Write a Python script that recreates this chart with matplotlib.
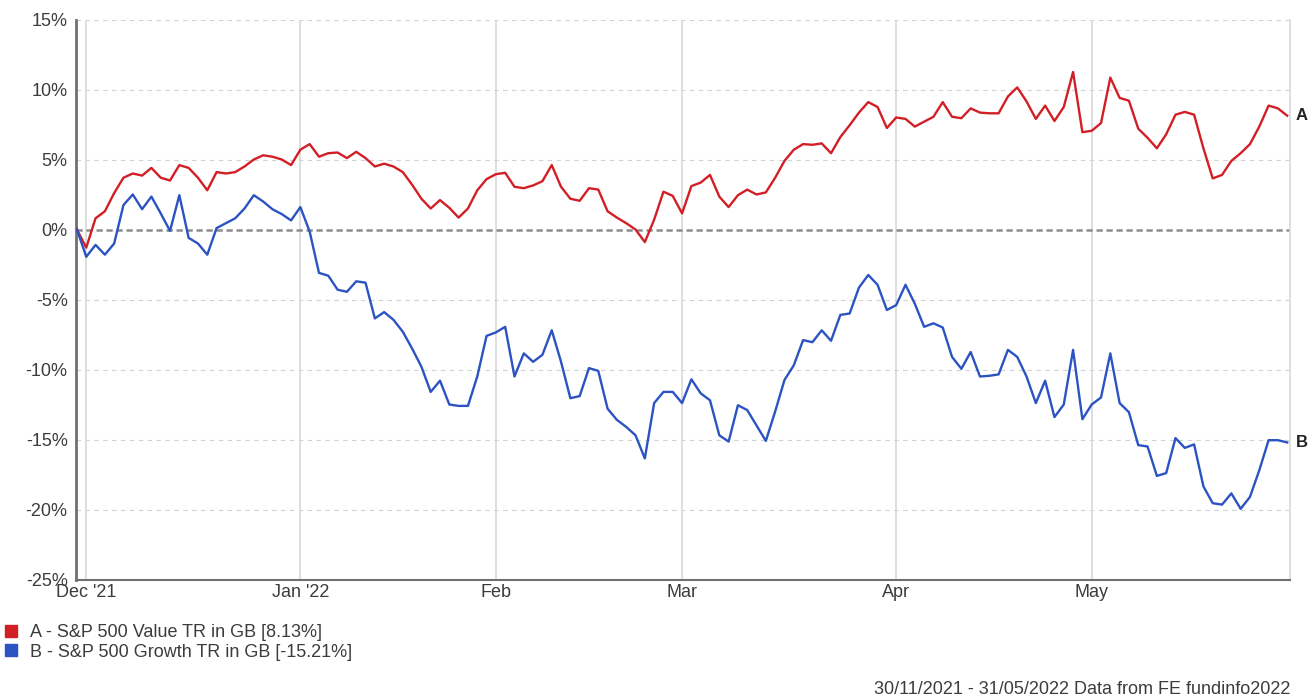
import numpy as np
import pandas as pd
import matplotlib
matplotlib.use('Agg')
import matplotlib.pyplot as plt
from matplotlib.lines import Line2D
from matplotlib.ticker import FuncFormatter

plt.rcParams['font.family'] = ['Liberation Sans', 'DejaVu Sans']

# one point per weekday, 30/11/2021 - 31/05/2022
dates = pd.bdate_range('2021-11-30', '2022-05-31')

value_a = [0.0, -1.3, 0.8, 1.3, 2.6, 3.7, 4.0, 3.85, 4.4, 3.7,
           3.5, 4.6, 4.4, 3.7, 2.8, 4.1, 4.0, 4.1, 4.5, 5.0,
           5.3, 5.2, 5.0, 4.6, 5.7, 6.1, 5.2, 5.45, 5.5, 5.1,
           5.55, 5.1, 4.5, 4.7, 4.5, 4.1, 3.2, 2.2, 1.5, 2.1,
           1.55, 0.85, 1.5, 2.8, 3.6, 3.95, 4.05, 3.05, 2.95, 3.15,
           3.45, 4.6, 3.05, 2.2, 2.05, 2.95, 2.85, 1.3, 0.85, 0.45,
           0.0, -0.9, 0.7, 2.7, 2.4, 1.15, 3.1, 3.35, 3.9, 2.35,
           1.6, 2.45, 2.85, 2.5, 2.65, 3.7, 4.9, 5.7, 6.1, 6.05,
           6.15, 5.45, 6.6, 7.45, 8.35, 9.1, 8.75, 7.25, 8.0, 7.9,
           7.35, 7.7, 8.05, 9.1, 8.05, 7.95, 8.65, 8.35, 8.3, 8.3,
           9.5, 10.15, 9.15, 7.9, 8.85, 7.75, 8.75, 11.25, 6.95, 7.05,
           7.6, 10.85, 9.4, 9.2, 7.2, 6.55, 5.8, 6.8, 8.2, 8.4,
           8.2, 5.8, 3.65, 3.9, 4.9, 5.45, 6.1, 7.35, 8.85, 8.65,
           8.13]

growth_b = [0.0, -1.95, -1.1, -1.8, -1.0, 1.75, 2.5, 1.45, 2.35, 1.15,
            -0.1, 2.45, -0.6, -1.0, -1.8, 0.1, 0.45, 0.8, 1.5, 2.45,
            2.0, 1.45, 1.1, 0.65, 1.6, -0.15, -3.1, -3.3, -4.3, -4.45,
            -3.7, -3.8, -6.35, -5.9, -6.45, -7.3, -8.5, -9.8, -11.6, -10.8,
            -12.5, -12.6, -12.6, -10.5, -7.6, -7.35, -6.95, -10.5, -8.85, -9.45,
            -8.95, -7.2, -9.45, -12.05, -11.9, -9.9, -10.1, -12.8, -13.6, -14.1,
            -14.7, -16.35, -12.4, -11.6, -11.6, -12.4, -10.7, -11.7, -12.2, -14.7,
            -15.15, -12.55, -12.9, -14.0, -15.1, -13.0, -10.75, -9.7, -7.9, -8.05,
            -7.2, -7.95, -6.1, -6.0, -4.15, -3.25, -3.95, -5.75, -5.4, -3.95,
            -5.3, -6.95, -6.7, -7.0, -9.1, -9.95, -8.75, -10.5, -10.45, -10.35,
            -8.6, -9.1, -10.5, -12.4, -10.8, -13.4, -12.5, -8.6, -13.55, -12.5,
            -12.0, -8.85, -12.4, -13.05, -15.4, -15.5, -17.6, -17.4, -14.9, -15.6,
            -15.35, -18.35, -19.55, -19.65, -18.85, -19.95, -19.1, -17.2, -15.05, -15.05,
            -15.21]

series_names = ['A - S&P 500 Value TR in GB [8.13%]',
                'B - S&P 500 Growth TR in GB [-15.21%]']
series_tags = ['A', 'B']
colours = ['#d21f26', '#2b53c2']
month_labels = ["Dec '21", "Jan '22", 'Feb', 'Mar', 'Apr', 'May']
y_ticks = [-25, -20, -15, -10, -5, 0, 5, 10, 15]
footer = '30/11/2021 - 31/05/2022 Data from FE fundinfo2022'

text_col = '#3c3c3c'
x = np.arange(len(dates))
month_starts = [i for i in range(1, len(dates)) if dates[i].month != dates[i - 1].month]

W, H = 1312, 698
fig = plt.figure(figsize=(W / 100, H / 100), dpi=100)
ax = fig.add_axes([76 / W, 1 - 579.5 / H, (1290 - 76) / W, (579.5 - 19.5) / H])

for yv in y_ticks:
    if yv != 0:
        ax.axhline(yv, color='#d2d2d2', lw=0.8, ls=(0, (4, 4)), zorder=0)
for m in month_starts:
    ax.axvline(m, color='#d8d8d8', lw=1.2, zorder=0)
ax.axhline(0, color='#8c8c8c', lw=1.8, ls=(0, (2.5, 1.5)), zorder=1)

for vals, col, tag in zip([value_a, growth_b], colours, series_tags):
    ax.plot(x, vals, color=col, lw=1.7, zorder=3)
    ax.annotate(tag, (x[-1], vals[-1]), xytext=(6, 0), textcoords='offset points',
                va='center', ha='left', fontsize=12, fontweight='bold',
                color='#222222', annotation_clip=False)

ax.set_xlim(-0.1, 130.3)
ax.set_ylim(-25, 15)
ax.set_yticks(y_ticks)
ax.yaxis.set_major_formatter(FuncFormatter(lambda v, p: f'{v:.0f}%'))
ax.set_xticks(month_starts)
ax.set_xticklabels(month_labels)
ax.tick_params(axis='both', length=0, labelsize=13, colors=text_col)
ax.tick_params(axis='y', pad=6)
ax.tick_params(axis='x', pad=3.5)

ax.spines['top'].set_visible(False)
ax.spines['right'].set_color('#d8d8d8')
ax.spines['right'].set_linewidth(1.2)
ax.spines['left'].set_color('#707070')
ax.spines['left'].set_linewidth(2)
ax.spines['bottom'].set_color('#707070')
ax.spines['bottom'].set_linewidth(1.5)

handles = [Line2D([], [], marker='s', ls='none', color=c, markersize=9) for c in colours]
fig.legend(handles, series_names, loc='upper left', bbox_to_anchor=(3 / W, 1 - 624 / H),
           frameon=False, fontsize=13, handlelength=0.9, handletextpad=0.6,
           labelspacing=0.15, borderpad=0, borderaxespad=0, labelcolor=text_col)

fig.text(1290 / W, 1 - 690 / H, footer, ha='right', va='center', fontsize=13, color=text_col)

fig.savefig('out.png', dpi=100)
